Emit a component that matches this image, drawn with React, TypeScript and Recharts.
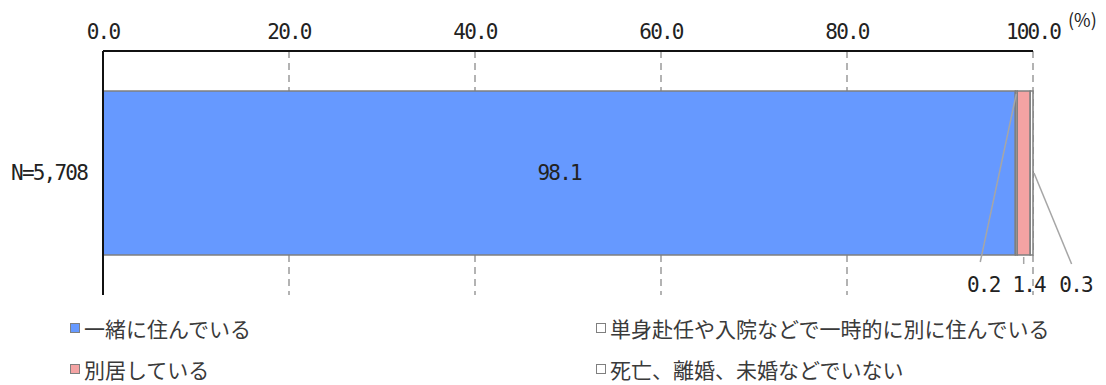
import { BarChart, Bar, XAxis, YAxis, CartesianGrid, LabelList } from "recharts";

const categories = ["N=5,708"];
const seriesNames = [
  "一緒に住んでいる",
  "単身赴任や入院などで一時的に別に住んでいる",
  "別居している",
  "死亡、離婚、未婚などでいない",
];
const seriesValues = [98.1, 0.2, 1.4, 0.3];
const seriesColors = ["#6699FF", "#FFFFFF", "#F4A3A3", "#FFFFFF"];
const xTicks = [0, 20, 40, 60, 80, 100];

const chartData = categories.map((name) => {
  const row: Record<string, string | number> = { name };
  seriesValues.forEach((v, i) => {
    row[`s${i}`] = v;
  });
  return row;
});

const MONO = "'DejaVu Sans Mono', 'Liberation Mono', monospace";
const JP = "'Noto Sans CJK JP', 'Noto Sans', sans-serif";
const LEADER = "#a6a6a6";
const numFont = { fontFamily: MONO, fontSize: 21, letterSpacing: -1.8, fill: "#222" };

type LabelProps = { x?: number; y?: number; width?: number; height?: number; value?: number | string };

function centerLabel(p: LabelProps) {
  const x = Number(p.x), y = Number(p.y), w = Number(p.width), h = Number(p.height);
  return (
    <text x={x + w / 2} y={y + h / 2} textAnchor="middle" dominantBaseline="central" {...numFont}>
      {Number(p.value).toFixed(1)}
    </text>
  );
}

// small segments: label below the bar with a leader line
function leaderLabel(kind: "left" | "down" | "right") {
  return (p: LabelProps) => {
    const x = Number(p.x), y = Number(p.y), w = Number(p.width), h = Number(p.height);
    const cx = x + w / 2;
    const bottom = y + h;
    let line: [number, number, number, number];
    let tx: number;
    if (kind === "left") {
      line = [cx, y + 3, cx - 36, bottom + 7];
      tx = cx - 33;
    } else if (kind === "down") {
      line = [cx, bottom + 2, cx, bottom + 9];
      tx = cx + 5;
    } else {
      line = [x + w + 1, y + h / 2, cx + 40, bottom + 9];
      tx = cx + 44;
    }
    return (
      <g>
        <line x1={line[0]} y1={line[1]} x2={line[2]} y2={line[3]} stroke={LEADER} strokeWidth={1.5} />
        <text x={tx} y={bottom + 37} textAnchor="middle" {...numFont}>
          {Number(p.value).toFixed(1)}
        </text>
      </g>
    );
  };
}

const labelRenderers = [centerLabel, leaderLabel("left"), leaderLabel("down"), leaderLabel("right")];

const legendPos = [
  { left: 70, top: 317 },
  { left: 596, top: 317 },
  { left: 70, top: 358 },
  { left: 596, top: 358 },
];

export default function App() {
  return (
    <div style={{ position: "absolute", left: 0, top: 0, width: 1106, height: 385, background: "#fff", overflow: "hidden" }}>
      <BarChart
        width={1106}
        height={300}
        data={chartData}
        layout="vertical"
        margin={{ top: 21, right: 73, bottom: 5, left: 0 }}
        barSize={164}
      >
        <CartesianGrid horizontal={false} stroke="#9a9a9a" strokeDasharray="7 5" strokeWidth={1.5} />
        <XAxis
          type="number"
          orientation="top"
          domain={[0, 100]}
          ticks={xTicks}
          height={30}
          tickSize={0}
          tickMargin={12}
          tickLine={false}
          axisLine={{ stroke: "#111", strokeWidth: 2 }}
          tick={numFont}
          tickFormatter={(v: number) => v.toFixed(1)}
        />
        <YAxis
          type="category"
          dataKey="name"
          width={103}
          tickLine={false}
          tickSize={0}
          tickMargin={16}
          axisLine={{ stroke: "#111", strokeWidth: 2 }}
          tick={numFont}
        />
        {seriesNames.map((name, i) => (
          <Bar
            key={name}
            dataKey={`s${i}`}
            name={name}
            stackId="a"
            fill={seriesColors[i]}
            stroke="#7f7f7f"
            strokeWidth={1.5}
            isAnimationActive={false}
          >
            <LabelList dataKey={`s${i}`} content={labelRenderers[i]} />
          </Bar>
        ))}
      </BarChart>
      <div style={{ position: "absolute", left: 1068, top: 6, fontFamily: JP, fontSize: 18, color: "#222" }}>(%)</div>
      {seriesNames.map((name, i) => (
        <div
          key={name}
          style={{
            position: "absolute",
            left: legendPos[i].left,
            top: legendPos[i].top,
            display: "flex",
            alignItems: "center",
            fontFamily: JP,
            fontSize: 21,
            lineHeight: "22px",
            color: "#3a3a3a",
            whiteSpace: "nowrap",
          }}
        >
          <span
            style={{
              display: "inline-block",
              width: 8,
              height: 8,
              marginRight: 4,
              background: seriesColors[i],
              border: "1px solid #7f7f7f",
            }}
          />
          {name}
        </div>
      ))}
    </div>
  );
}
